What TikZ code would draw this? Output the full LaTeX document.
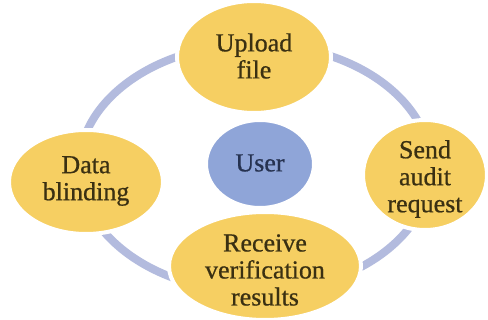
\documentclass[tikz,border=0pt]{standalone}
\usepackage{fontspec}
\setmainfont{Liberation Serif}
\newfontfamily\lblfont[FakeBold=0.7]{Liberation Serif}
\usetikzlibrary{shapes.geometric}
\definecolor{ringc}{HTML}{B3BBDE}
\definecolor{yel}{HTML}{F6CF62}
\definecolor{usr}{HTML}{8FA5D8}
\definecolor{txtc}{HTML}{3A3012}
\definecolor{usrtxt}{HTML}{263250}
\tikzset{
  blob/.style={ellipse, draw=white, line width=4pt, fill=yel, inner sep=0pt},
  lbl/.style={align=center, text=txtc, font=\lblfont\fontsize{26}{27}\selectfont, inner sep=0pt},
}
\begin{document}
\begin{tikzpicture}[x=1pt,y=-1pt]
\useasboundingbox[fill=white] (0,0) rectangle (488,320);
\coordinate (ringc) at (255,168);
\draw[ringc, line width=8pt] (ringc) ellipse [x radius=176, y radius=124];
\node[blob, minimum width=154pt, minimum height=112pt] (up) at (254,57) {};
\node[blob, minimum width=154pt, minimum height=104pt] (db) at (86,182) {};
\node[blob, minimum width=124pt, minimum height=110pt] (sa) at (425,175) {};
\node[blob, minimum width=192pt, minimum height=108pt] (rv) at (265,266) {};
\node[ellipse, fill=usr, draw=white, line width=2pt, inner sep=0pt, minimum width=106pt, minimum height=86pt] (us) at (260,164) {};
\node[lbl] (upt) at ([yshift=1]up) {Upload\\file};
\node[lbl] (dbt) at ([yshift=1]db) {Data\\blinding};
\node[lbl] (sat) at ([yshift=-4]sa) {Send\\audit\\request};
\node[lbl] (rvt) at ([yshift=-4]rv) {Receive\\verification\\results};
\node[lbl, text=usrtxt] (ust) at ([yshift=1]us) {User};
\end{tikzpicture}
\end{document}
